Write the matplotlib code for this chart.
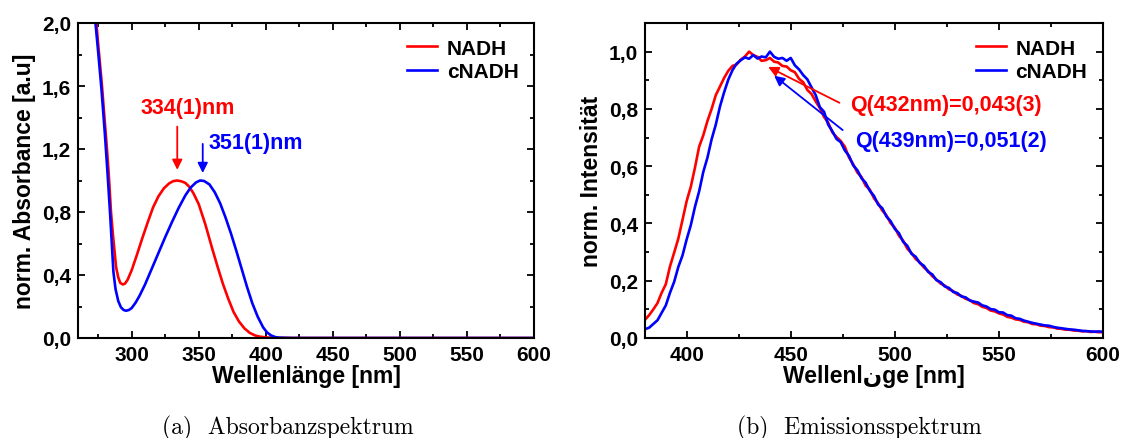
import numpy as np
import matplotlib
matplotlib.use("Agg")
import matplotlib.pyplot as plt
from matplotlib.ticker import MultipleLocator, FuncFormatter

# ---- Absorption spectra (normalised) ----
abs_nadh_nm = [273.4, 275, 277.9, 280, 281.6, 283, 284.6, 286, 288.4, 290, 291.5, 293.4,
               295, 297, 300, 304, 308, 312, 316, 320, 324, 328, 331, 334,
               337, 340, 343, 346, 350, 355, 360, 364, 368, 372, 376, 380,
               384, 388, 392, 396, 400, 405, 410, 420, 450, 500, 550, 600]
abs_nadh = [2.03, 1.87, 1.60, 1.37, 1.20, 1.03, 0.80, 0.66, 0.45, 0.385, 0.35, 0.340,
            0.345, 0.37, 0.43, 0.53, 0.635, 0.735, 0.83, 0.90, 0.95, 0.982, 0.996, 1.0,
            0.995, 0.985, 0.96, 0.92, 0.85, 0.72, 0.57, 0.455, 0.345, 0.25, 0.165, 0.105,
            0.062, 0.033, 0.016, 0.008, 0.004, 0.002, 0.001, 0.0, 0.0, 0.0, 0.0, 0.0]

abs_cnadh_nm = [272.7, 275, 277.5, 280, 282, 284, 286.4, 288, 290, 292, 294, 295.8,
                298, 300, 303, 306, 310, 315, 320, 325, 330, 335, 340, 344,
                348, 351, 354, 358, 362, 366, 370, 374, 378, 382, 386, 390,
                394, 398, 401, 404, 407, 410, 420, 450, 500, 550, 600]
abs_cnadh = [2.03, 1.82, 1.58, 1.30, 1.05, 0.78, 0.42, 0.31, 0.235, 0.195, 0.178, 0.173,
             0.178, 0.19, 0.225, 0.27, 0.34, 0.44, 0.54, 0.64, 0.735, 0.825, 0.905, 0.955,
             0.988, 1.0, 0.997, 0.975, 0.925, 0.855, 0.765, 0.665, 0.555, 0.44, 0.325, 0.22,
             0.135, 0.068, 0.035, 0.016, 0.006, 0.002, 0.0, 0.0, 0.0, 0.0, 0.0]

# ---- Emission spectra (normalised) ----
em_nm = list(range(380, 601, 2))
em_nadh = [0.064, 0.080, 0.100, 0.122, 0.158, 0.188, 0.250, 0.298, 0.347, 0.412,
           0.478, 0.528, 0.595, 0.668, 0.708, 0.758, 0.800, 0.848, 0.878, 0.908,
           0.933, 0.950, 0.955, 0.972, 0.983, 1.000, 0.988, 0.982, 0.968, 0.970,
           0.978, 0.965, 0.962, 0.950, 0.948, 0.935, 0.928, 0.905, 0.893, 0.866,
           0.852, 0.826, 0.803, 0.772, 0.752, 0.718, 0.702, 0.688, 0.668, 0.630,
           0.607, 0.578, 0.562, 0.532, 0.518, 0.488, 0.470, 0.445, 0.428, 0.401,
           0.385, 0.357, 0.340, 0.312, 0.297, 0.276, 0.264, 0.246, 0.234, 0.216,
           0.204, 0.190, 0.183, 0.170, 0.164, 0.152, 0.147, 0.137, 0.132, 0.122,
           0.118, 0.109, 0.105, 0.096, 0.093, 0.086, 0.082, 0.074, 0.071, 0.065,
           0.063, 0.057, 0.055, 0.049, 0.048, 0.043, 0.042, 0.038, 0.037, 0.033,
           0.032, 0.029, 0.029, 0.026, 0.026, 0.023, 0.024, 0.021, 0.022, 0.020,
           0.021]
em_cnadh = [0.031, 0.036, 0.049, 0.062, 0.088, 0.114, 0.158, 0.196, 0.248, 0.288,
            0.344, 0.394, 0.458, 0.512, 0.580, 0.630, 0.694, 0.745, 0.808, 0.858,
            0.902, 0.935, 0.958, 0.970, 0.980, 0.975, 0.988, 0.976, 0.983, 0.980,
            1.000, 0.982, 0.975, 0.978, 0.968, 0.978, 0.952, 0.938, 0.918, 0.903,
            0.875, 0.848, 0.806, 0.790, 0.745, 0.722, 0.695, 0.684, 0.655, 0.636,
            0.603, 0.586, 0.558, 0.542, 0.514, 0.496, 0.466, 0.453, 0.424, 0.408,
            0.381, 0.366, 0.336, 0.322, 0.294, 0.284, 0.262, 0.252, 0.231, 0.222,
            0.202, 0.195, 0.180, 0.175, 0.161, 0.157, 0.145, 0.142, 0.131, 0.127,
            0.124, 0.114, 0.110, 0.101, 0.099, 0.090, 0.089, 0.080, 0.078, 0.069,
            0.067, 0.061, 0.057, 0.053, 0.050, 0.047, 0.044, 0.043, 0.039, 0.036,
            0.034, 0.032, 0.030, 0.029, 0.027, 0.025, 0.024, 0.023, 0.022, 0.023,
            0.021]

labels = ["NADH", "cNADH"]
abs_peaks = ["334(1)nm", "351(1)nm"]
quantum_yields = ["Q(432nm)=0,043(3)", "Q(439nm)=0,051(2)"]

RED = "#ff0000"
BLUE = "#0000ff"
SANS = ["Liberation Sans", "DejaVu Sans"]
TICK_FS = 15
LABEL_FS = 16.5
NOTE_FS = 15.5

plt.rcParams["font.family"] = SANS
plt.rcParams["font.weight"] = "bold"

fig = plt.figure(figsize=(11.25, 4.39), dpi=100)
W, H = 1125, 439
ax1 = fig.add_axes([78 / W, 1 - 339 / H, (534 - 78) / W, (339 - 24) / H])
ax2 = fig.add_axes([645 / W, 1 - 339 / H, (1103 - 645) / W, (339 - 24) / H])

comma = FuncFormatter(lambda v, p: f"{v:.1f}".replace(".", ","))


def style_axes(ax):
    for s in ax.spines.values():
        s.set_linewidth(1.5)
    ax.tick_params(which="both", direction="in", top=True, right=True,
                   width=1.3, labelsize=TICK_FS, pad=5)
    ax.tick_params(which="major", length=5)
    ax.tick_params(which="minor", length=3)
    for lab in ax.get_xticklabels() + ax.get_yticklabels():
        lab.set_fontweight("bold")


def add_legend(ax):
    ax.legend(loc="upper right", frameon=False, handlelength=1.45,
              handletextpad=0.45, labelspacing=0.2, borderaxespad=0.35,
              prop=dict(family=SANS, weight="bold", size=TICK_FS))


# Absorbance panel
ax1.plot(abs_nadh_nm, abs_nadh, color=RED, lw=1.9, label=labels[0])
ax1.plot(abs_cnadh_nm, abs_cnadh, color=BLUE, lw=1.9, label=labels[1])
ax1.set_xlim(260, 600)
ax1.set_ylim(0, 2.0)
ax1.set_xticks([300, 350, 400, 450, 500, 550, 600])
ax1.xaxis.set_minor_locator(MultipleLocator(25))
ax1.yaxis.set_major_locator(MultipleLocator(0.4))
ax1.yaxis.set_minor_locator(MultipleLocator(0.2))
ax1.yaxis.set_major_formatter(comma)
style_axes(ax1)
ax1.set_xlabel("Wellenlänge [nm]", fontsize=LABEL_FS, fontweight="bold", labelpad=0)
ax1.set_ylabel("norm. Absorbance [a.u]", fontsize=LABEL_FS, fontweight="bold", labelpad=4)

ax1.annotate("", xy=(334, 1.05), xytext=(334, 1.36),
             arrowprops=dict(arrowstyle="-|>", color=RED, lw=1.3, mutation_scale=15))
ax1.text(341.5, 1.465, abs_peaks[0], color=RED, fontsize=NOTE_FS, fontweight="bold",
         ha="center", va="center")
ax1.annotate("", xy=(353, 1.03), xytext=(353, 1.25),
             arrowprops=dict(arrowstyle="-|>", color=BLUE, lw=1.3, mutation_scale=15))
ax1.text(357, 1.24, abs_peaks[1], color=BLUE, fontsize=NOTE_FS, fontweight="bold",
         ha="left", va="center")
add_legend(ax1)

# Emission panel
ax2.plot(em_nm, em_nadh, color=RED, lw=1.9, label=labels[0])
ax2.plot(em_nm, em_cnadh, color=BLUE, lw=1.9, label=labels[1])
ax2.set_xlim(380, 600)
ax2.set_ylim(0, 1.1)
ax2.set_xticks([400, 450, 500, 550, 600])
ax2.xaxis.set_minor_locator(MultipleLocator(25))
ax2.set_yticks([0, 0.2, 0.4, 0.6, 0.8, 1.0])
ax2.yaxis.set_minor_locator(MultipleLocator(0.1))
ax2.yaxis.set_major_formatter(comma)
style_axes(ax2)
ax2.set_xlabel("Wellenl\u0646ge [nm]", fontsize=LABEL_FS, fontweight="bold", labelpad=0)
ax2.set_ylabel("norm. Intensität", fontsize=LABEL_FS, fontweight="bold", labelpad=4)

ax2.annotate("", xy=(438, 0.951), xytext=(474.6, 0.817),
             arrowprops=dict(arrowstyle="-|>", color=RED, lw=1.3, mutation_scale=15))
ax2.text(478.5, 0.814, quantum_yields[0], color=RED, fontsize=NOTE_FS, fontweight="bold",
         ha="left", va="center")
ax2.annotate("", xy=(441, 0.922), xytext=(476, 0.72),
             arrowprops=dict(arrowstyle="-|>", color=BLUE, lw=1.3, mutation_scale=15))
ax2.text(481, 0.689, quantum_yields[1], color=BLUE, fontsize=NOTE_FS, fontweight="bold",
         ha="left", va="center")
add_legend(ax2)

# Sub-figure captions
fig.text(288 / W, 1 - 428 / H, "(a)  Absorbanzspektrum", family="cmr10",
         fontsize=17, fontweight="normal", ha="center", va="center")
fig.text(859 / W, 1 - 428 / H, "(b)  Emissionsspektrum", family="cmr10",
         fontsize=17, fontweight="normal", ha="center", va="center")

fig.savefig("out.png", dpi=100, facecolor="white")
